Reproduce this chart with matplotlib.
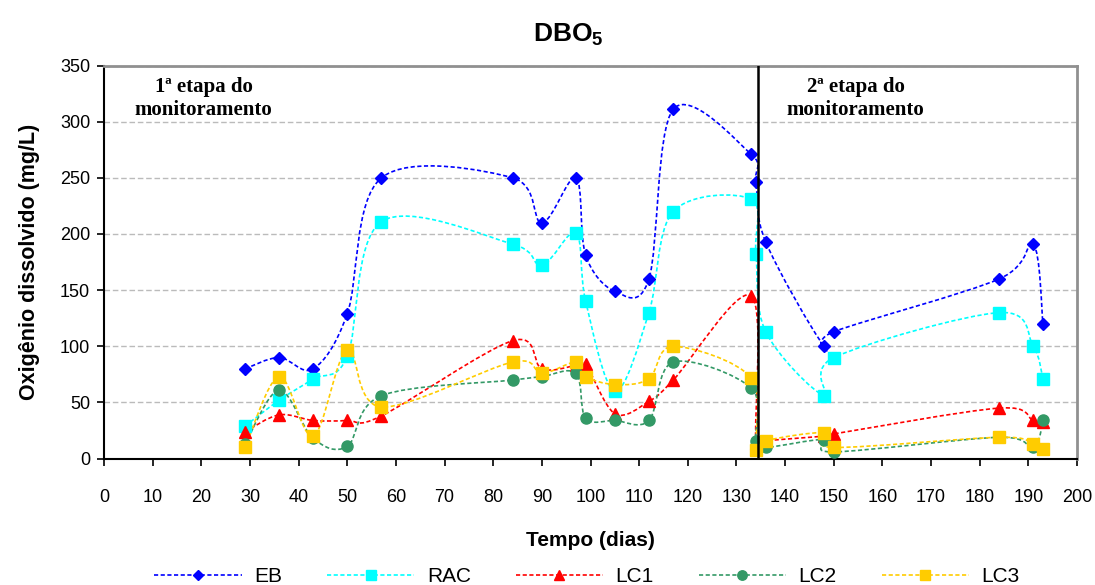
import matplotlib
matplotlib.use("Agg")
import matplotlib.pyplot as plt
from matplotlib.path import Path
from matplotlib.patches import PathPatch
from matplotlib.lines import Line2D
import numpy as np

plt.rcParams['font.family'] = ['Liberation Sans', 'DejaVu Sans']
plt.rcParams['mathtext.fontset'] = 'custom'
plt.rcParams['mathtext.bf'] = 'Liberation Sans:bold'
plt.rcParams['mathtext.rm'] = 'Liberation Sans'

######## data #############################
dias = [29, 36, 43, 50, 57, 84, 90, 97, 99, 105, 112, 117, 133, 134, 136, 148, 150, 184, 191, 193]
eb = [80, 90, 80, 129, 250, 250, 210, 250, 181, 149, 160, 311, 271, 246, 193, 100, 113, 160, 191, 120]
rac = [29, 52, 71, 91, 211, 191, 172, 201, 140, 60, 130, 220, 231, 182, 113, 56, 90, 130, 100, 71]
lc1 = [24, 39, 34, 34, 38, 105, 80, 83, 84, 40, 51, 70, 145, 14, 16, 20, 22, 45, 34, 33]
lc2 = [13, 61, 18, 11, 56, 70, 73, 76, 36, 34, 34, 86, 63, 16, 10, 17, 6, 19, 10, 34]
lc3 = [10, 73, 20, 97, 46, 86, 76, 86, 73, 66, 71, 100, 72, 8, 16, 23, 10, 19, 13, 9]
divisao = 134.5
###########################################

series = [
    ("EB", eb, "#0000FF", "D", 6.5),
    ("RAC", rac, "#00FFFF", "s", 8),
    ("LC1", lc1, "#FF0000", "^", 8),
    ("LC2", lc2, "#339966", "o", 8),
    ("LC3", lc3, "#FFCC00", "s", 8),
]


def smooth_path(xs, ys):
    # excel-like smoothed line: cubic bezier segments (catmull-rom control points)
    p = np.column_stack([xs, ys]).astype(float)
    n = len(p)
    verts = [p[0]]
    codes = [Path.MOVETO]
    for i in range(n - 1):
        p0 = p[i - 1] if i > 0 else p[i]
        p3 = p[i + 2] if i + 2 < n else p[i + 1]
        c1 = p[i] + (p[i + 1] - p0) / 6.0
        c2 = p[i + 1] - (p3 - p[i]) / 6.0
        verts += [c1, c2, p[i + 1]]
        codes += [Path.CURVE4] * 3
    return Path(verts, codes)


fig = plt.figure(figsize=(10.95, 5.85), dpi=100)
ax = fig.add_axes([0.095, 0.216, 0.8886, 0.672])

dash = (0, (2.5, 1.5))
handles = []
for name, vals, col, mk, ms in series:
    patch = PathPatch(smooth_path(dias, vals), facecolor='none', edgecolor=col,
                      lw=1.2, linestyle=dash, zorder=3)
    ax.add_patch(patch)
    ax.plot(dias, vals, linestyle='none', marker=mk, ms=ms, color=col,
            markeredgecolor=col, zorder=4)
    handles.append(Line2D([], [], color=col, lw=1.2, linestyle=dash,
                          marker=mk, ms=ms * 0.85, markevery=[1]))

ax.axvline(divisao, color='black', lw=1.8, zorder=5)

ax.set_xlim(0, 200)
ax.set_ylim(0, 350)
ax.set_xticks(np.arange(0, 201, 10))
ax.set_yticks(np.arange(0, 351, 50))
ax.tick_params(axis='both', direction='out', length=5, width=1.2, labelsize=13)
ax.tick_params(axis='x', pad=17)
ax.tick_params(axis='y', pad=5)
ax.yaxis.grid(True, color='#BBBBBB', linestyle=(0, (4, 2)), lw=1)
ax.set_axisbelow(True)

for s in ['top', 'right']:
    ax.spines[s].set_color('#909090')
    ax.spines[s].set_linewidth(2)
for s in ['left', 'bottom']:
    ax.spines[s].set_color('black')
    ax.spines[s].set_linewidth(1.5)

ax.set_ylabel("Oxigênio dissolvido (mg/L)", fontsize=15.5, fontweight='bold', labelpad=14)
ax.set_xlabel("Tempo (dias)", fontsize=15, fontweight='bold', labelpad=18)

fig.text(0.519, 0.941, r"$\mathbf{DBO_5}$", ha='center', va='center', fontsize=19)

etapa = dict(ha='center', va='center', family=['Liberation Serif', 'DejaVu Serif'],
             fontweight='bold', fontsize=15, linespacing=1.2)
ax.text(20.5, 321, "1ª etapa do\nmonitoramento", **etapa)
ax.text(154.5, 321, "2ª etapa do\nmonitoramento", **etapa)

fig.legend(handles, [s[0] for s in series], loc='center', bbox_to_anchor=(0.536, 0.014),
           ncol=5, frameon=False, fontsize=15, handlelength=4.2, columnspacing=2.15,
           handletextpad=0.6)

fig.savefig("out.png", dpi=100)
